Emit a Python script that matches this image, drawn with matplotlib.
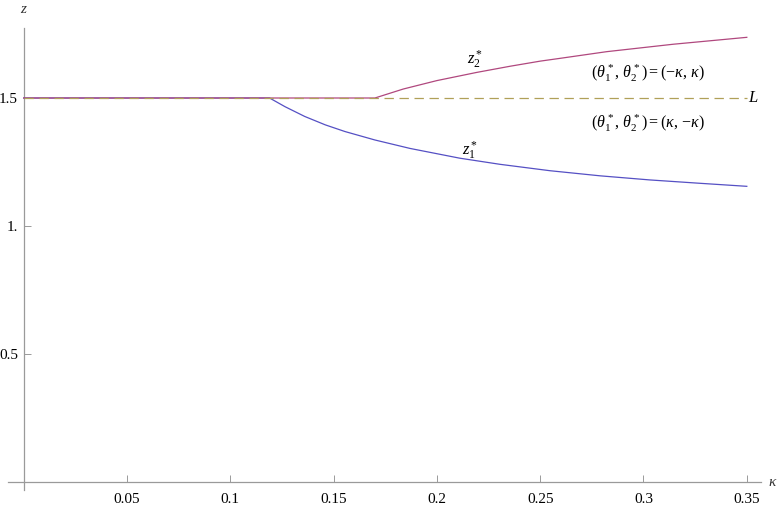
import matplotlib
matplotlib.use("Agg")
import matplotlib.pyplot as plt

# ---- data ----
kappa_z1 = [0.0, 0.119, 0.1265, 0.136, 0.146, 0.1555, 0.170, 0.187, 0.211,
            0.2305, 0.2547, 0.279, 0.303, 0.327, 0.35]
z1 = [1.5, 1.5, 1.466, 1.428, 1.395, 1.369, 1.336, 1.303, 1.265,
      1.241, 1.216, 1.196, 1.180, 1.167, 1.155]

kappa_z2 = [0.0, 0.170, 0.1837, 0.200, 0.2193, 0.2354, 0.250, 0.2597,
            0.2822, 0.3144, 0.35]
z2 = [1.5, 1.5, 1.535, 1.568, 1.600, 1.624, 1.644, 1.655, 1.681, 1.710, 1.737]

kappa_L = [0.0, 0.35]
z_L = [1.5, 1.5]

xticks = [0.05, 0.1, 0.15, 0.2, 0.25, 0.3, 0.35]
xticklabels = ["0.05", "0.1", "0.15", "0.2", "0.25", "0.3", "0.35"]
yticks = [0.5, 1.0, 1.5]
yticklabels = ["0.5", "1.", "1.5"]

# ---- style ----
plt.rcParams["font.family"] = ["Liberation Serif", "DejaVu Serif"]
plt.rcParams["mathtext.fontset"] = "custom"
plt.rcParams["mathtext.rm"] = "Liberation Serif"
plt.rcParams["mathtext.it"] = "Liberation Serif:italic"
plt.rcParams["mathtext.bf"] = "Liberation Serif:bold"

blue = "#5550c4"
red = "#b0487e"
gold = "#b0a058"
axcol = "#9a9a9a"

fig = plt.figure(figsize=(7.8, 5.05), dpi=100)
ax = fig.add_axes([0, 0, 1, 1])
ax.set_xlim(-0.01147, 0.36607)
ax.set_ylim(-0.0898, 1.8828)
ax.patch.set_alpha(0)

ax.plot(kappa_z1, z1, color=blue, lw=0.9, zorder=3)
ax.plot(kappa_z2, z2, color=red, lw=0.9, zorder=3)
ax.plot(kappa_L, z_L, color=gold, lw=0.9, dashes=(7.5, 4.5), zorder=4)

for s in ["top", "right"]:
    ax.spines[s].set_visible(False)
ax.spines["left"].set_position(("data", 0))
ax.spines["bottom"].set_position(("data", 0))
ax.spines["left"].set_bounds(-0.03, 1.773)
ax.spines["bottom"].set_bounds(-0.0076, 0.3569)
for s in ["left", "bottom"]:
    ax.spines[s].set_color(axcol)
    ax.spines[s].set_linewidth(0.9)

ax.set_xticks(xticks, labels=xticklabels)
ax.set_yticks(yticks, labels=yticklabels)
ax.tick_params(axis="both", direction="in", length=5, width=0.7,
               color=axcol, labelsize=11, labelcolor="black")
ax.tick_params(axis="x", pad=8)
ax.tick_params(axis="y", pad=4)

# axis labels
ax.text(0.0, 1.845, "$z$", ha="center", va="center", fontsize=11, color="#333333")
ax.text(0.3625, 0.0, "$\\kappa$", ha="center", va="center", fontsize=11, color="#333333")

# annotations
ax.text(0.2184, 1.650, "$z_2^*$", ha="center", va="center", fontsize=12)
ax.text(0.2160, 1.295, "$z_1^*$", ha="center", va="center", fontsize=12)
ax.text(0.3020, 1.595, "$(\\theta_1^*,\\, \\theta_2^*) = ({-}\\kappa,\\, \\kappa)$",
        ha="center", va="center", fontsize=11.5)
ax.text(0.3020, 1.400, "$(\\theta_1^*,\\, \\theta_2^*) = (\\kappa,\\, {-}\\kappa)$",
        ha="center", va="center", fontsize=11.5)
ax.text(0.3505, 1.5, "$L$", ha="left", va="center", fontsize=12)

fig.savefig("out.png", dpi=100)
